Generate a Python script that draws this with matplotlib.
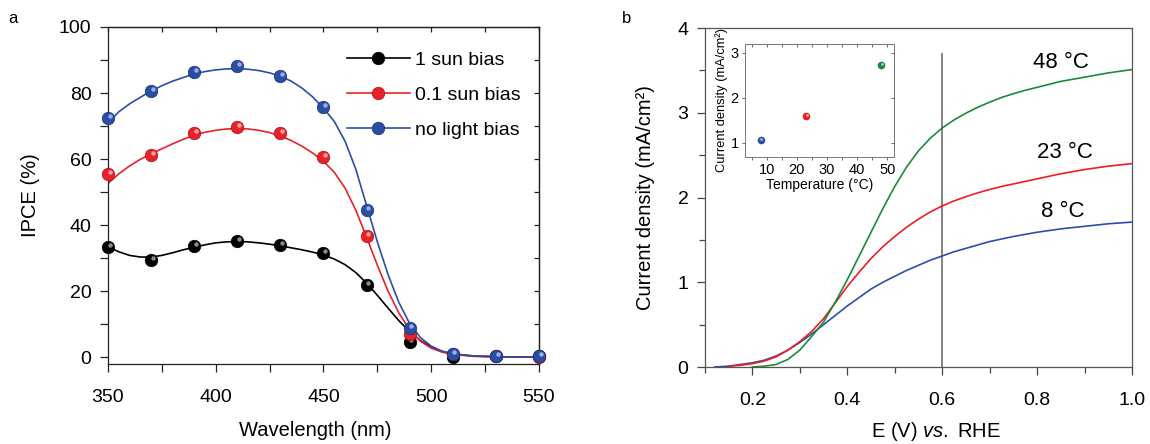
import matplotlib
matplotlib.use('Agg')
import matplotlib.pyplot as plt
import numpy as np
from matplotlib.ticker import MultipleLocator
from matplotlib.transforms import offset_copy
from matplotlib.lines import Line2D

plt.rcParams['font.family'] = ['Liberation Sans', 'DejaVu Sans']
plt.rcParams['mathtext.fontset'] = 'custom'
plt.rcParams['mathtext.rm'] = 'Liberation Sans'
plt.rcParams['mathtext.it'] = 'Liberation Sans:italic'

# ---------------- Panel a data ----------------
wl_points = [350, 370, 390, 410, 430, 450, 470, 490, 510, 530, 550]
ipce_1sun = [33.4, 29.4, 33.6, 35.3, 33.9, 31.6, 21.8, 4.6, 0.0, 0.2, 0.2]
ipce_01sun = [55.5, 61.2, 68.0, 69.6, 67.8, 60.7, 36.7, 6.9, 1.0, 0.2, 0.0]
ipce_nolight = [72.3, 80.6, 86.3, 88.3, 85.3, 75.7, 44.7, 8.7, 0.9, 0.4, 0.2]

wl_fit = [350, 355, 360, 365, 370, 375, 380, 385, 390, 395, 400, 405, 410,
          415, 420, 425, 430, 435, 440, 445, 450, 455, 460, 465, 470, 475,
          480, 485, 490, 495, 500, 505, 510, 520, 530, 540, 550]
fit_1sun = [33.4, 31.9, 30.8, 30.3, 30.3, 30.8, 31.6, 32.5, 33.3, 34.0, 34.6,
            34.9, 35.0, 34.9, 34.6, 34.2, 33.7, 33.1, 32.5, 31.8, 30.9, 29.7,
            28.0, 25.6, 22.4, 18.7, 14.8, 11.0, 7.7, 5.0, 3.0, 1.7, 0.9, 0.3,
            0.1, 0.0, 0.0]
fit_01sun = [52.6, 55.5, 57.9, 59.9, 61.5, 63.1, 64.6, 66.0, 67.2, 68.1, 68.7,
             69.1, 69.2, 69.1, 68.7, 68.0, 67.0, 65.6, 63.9, 61.8, 59.3, 56.0,
             51.2, 44.5, 36.3, 27.8, 19.9, 13.3, 8.3, 4.8, 2.7, 1.5, 0.8, 0.2,
             0.1, 0.0, 0.0]
fit_nolight = [70.8, 74.3, 76.7, 78.7, 80.6, 82.2, 83.6, 84.7, 85.8, 86.5,
               87.0, 87.3, 87.4, 87.2, 86.8, 86.1, 85.1, 83.6, 81.5, 78.8,
               75.4, 71.4, 65.4, 56.9, 45.9, 34.9, 24.9, 16.5, 10.1, 5.9, 3.3,
               1.8, 1.0, 0.3, 0.1, 0.03, 0.0]
labels_a = ['1 sun bias', '0.1 sun bias', 'no light bias']

# ---------------- Panel b data ----------------
E_V = [0.12, 0.15, 0.175, 0.2, 0.225, 0.25, 0.275, 0.3, 0.325, 0.35, 0.375,
       0.4, 0.425, 0.45, 0.475, 0.5, 0.525, 0.55, 0.575, 0.6, 0.625, 0.65,
       0.675, 0.7, 0.725, 0.75, 0.775, 0.8, 0.85, 0.9, 0.95, 1.0]
j_8C = [0.0, 0.01, 0.03, 0.05, 0.08, 0.13, 0.20, 0.29, 0.39, 0.50, 0.61,
        0.72, 0.82, 0.92, 1.00, 1.07, 1.14, 1.20, 1.26, 1.31, 1.36, 1.40,
        1.44, 1.48, 1.51, 1.54, 1.565, 1.59, 1.63, 1.66, 1.69, 1.71]
j_23C = [np.nan, 0.01, 0.02, 0.04, 0.07, 0.12, 0.20, 0.30, 0.42, 0.57, 0.76,
         0.95, 1.12, 1.28, 1.42, 1.54, 1.65, 1.745, 1.83, 1.90, 1.96, 2.01,
         2.055, 2.095, 2.13, 2.16, 2.19, 2.22, 2.28, 2.33, 2.37, 2.40]
j_48C = [np.nan, np.nan, np.nan, 0.0, 0.01, 0.03, 0.09, 0.20, 0.36, 0.53, 0.77,
         1.03, 1.31, 1.59, 1.87, 2.13, 2.36, 2.55, 2.70, 2.82, 2.915, 2.995,
         3.065, 3.125, 3.18, 3.225, 3.265, 3.30, 3.37, 3.42, 3.47, 3.51]
curve_labels = ['8 °C', '23 °C', '48 °C']
label_pos = [(0.855, 1.83), (0.859, 2.53), (0.85, 3.59)]
vline_E = 0.6
vline_top = 3.71

# inset data
temps = [8, 23, 48]
j_at_06 = [1.06, 1.59, 2.73]

# ---------------- colours ----------------
col_a = ['#000000', '#e8222a', '#2b4ea5']
dark_a = ['#000000', '#a51018', '#1a3170']
light_a = ['#9a9a9a', '#ffb0b0', '#a8b8f0']
col_b = ['#2b4fa8', '#ee1c25', '#1b8a3a']

fig = plt.figure(figsize=(11.5, 4.44), dpi=100)

# ================= Panel a =================
axa = fig.add_axes([0.0939, 0.1802, 0.3748, 0.759])
fits = [fit_1sun, fit_01sun, fit_nolight]
pts = [ipce_1sun, ipce_01sun, ipce_nolight]
hl = offset_copy(axa.transData, fig=fig, x=1.2, y=1.4, units='points')
handles = []
for i in range(3):
    axa.plot(wl_fit, fits[i], '-', color=col_a[i], lw=1.2, zorder=2)
for i in range(3):
    axa.plot(wl_points, pts[i], 'o', ms=9, mfc=col_a[i], mec=dark_a[i],
             mew=0.5, zorder=3 + i, clip_on=False)
    axa.plot(wl_points, pts[i], 'o', ms=3.2, mfc=light_a[i], mec='none',
             alpha=0.9, zorder=3.5 + i, clip_on=False, transform=hl)
    handles.append(Line2D([], [], color=col_a[i], lw=1.2, marker='o', ms=9,
                          mfc=col_a[i], mec=dark_a[i], mew=0.5))

axa.set_xlim(350, 550)
axa.set_ylim(-2.1, 100)
axa.xaxis.set_major_locator(MultipleLocator(50))
axa.xaxis.set_minor_locator(MultipleLocator(25))
axa.yaxis.set_major_locator(MultipleLocator(20))
axa.yaxis.set_minor_locator(MultipleLocator(10))
axa.tick_params(which='both', direction='out', length=5.8, width=0.9,
                color='#222222', labelsize=14, top=False, right=False)
axa.tick_params(axis='x', which='both', pad=12.5)
axa.tick_params(axis='y', which='both', pad=6)
for s in axa.spines.values():
    s.set_linewidth(0.9)
    s.set_color('#222222')
sx = axa.secondary_xaxis('top')
sx.xaxis.set_major_locator(MultipleLocator(25))
sx.tick_params(direction='in', length=3.6, width=0.9, color='#222222',
               labeltop=False)
sx.spines['top'].set_linewidth(0.9)
sx.spines['top'].set_color('#222222')
sy = axa.secondary_yaxis('right')
sy.yaxis.set_major_locator(MultipleLocator(10))
sy.tick_params(direction='in', length=3.6, width=0.9, color='#222222',
               labelright=False)
sy.spines['right'].set_linewidth(0.9)
sy.spines['right'].set_color('#222222')

axa.set_xlabel('Wavelength (nm)', fontsize=14.5)
axa.xaxis.set_label_coords(0.48, -0.168)
axa.set_ylabel('IPCE (%)', fontsize=14.5)
axa.yaxis.set_label_coords(-0.158, 0.5)

leg = axa.legend(handles, labels_a, loc='upper left',
                 bbox_to_anchor=(0.554, 0.927), frameon=False, fontsize=14,
                 handlelength=3.25, handletextpad=0.26, labelspacing=0.88,
                 borderpad=0, borderaxespad=0)

# ================= Panel b =================
axb = fig.add_axes([0.613, 0.1734, 0.3713, 0.7635])
js = [j_8C, j_23C, j_48C]
for i in range(3):
    axb.plot(E_V, js[i], '-', color=col_b[i], lw=1.2, zorder=2)
axb.vlines(vline_E, 0, vline_top, color='#6e6e6e', lw=1.2, zorder=1)
for i in range(3):
    axb.text(label_pos[i][0], label_pos[i][1], curve_labels[i], fontsize=16,
             ha='center', va='center')
axb.set_xlim(0.1, 1.0)
axb.set_ylim(0, 4)
axb.xaxis.set_minor_locator(MultipleLocator(0.1))
axb.yaxis.set_major_locator(MultipleLocator(1))
axb.yaxis.set_minor_locator(MultipleLocator(0.5))
axb.set_xticks([0.2, 0.4, 0.6, 0.8, 1.0])
axb.set_xticklabels(['0.2', '0.4', '0.6', '0.8', '1.0'])
axb.tick_params(which='major', direction='out', length=5.8, width=0.9,
                color='#444444', labelsize=14)
axb.tick_params(which='minor', direction='out', length=4.5, width=0.9,
                color='#444444')
axb.tick_params(axis='x', which='both', pad=12)
axb.tick_params(axis='y', which='both', pad=6)
for s in axb.spines.values():
    s.set_linewidth(0.9)
    s.set_color('#555555')
axb.set_xlabel(r'E (V) $\it{vs.}$ RHE', fontsize=14.5)
axb.xaxis.set_label_coords(0.54, -0.155)
axb.set_ylabel('Current density (mA/cm²)', fontsize=14.5)
axb.yaxis.set_label_coords(-0.117, 0.5)

# ---------------- inset ----------------
axi = fig.add_axes([0.6478, 0.647, 0.1296, 0.2538])
ihl = offset_copy(axi.transData, fig=fig, x=0.6, y=0.7, units='points')
light_b = ['#9fb2ee', '#ffb3b3', '#9ad6a8']
for i in range(3):
    axi.plot(temps[i], j_at_06[i], 'o', ms=5.5, mfc=col_b[i], mec='none',
             zorder=3)
    axi.plot(temps[i], j_at_06[i], 'o', ms=2, mfc=light_b[i], mec='none',
             zorder=4, transform=ihl)
axi.set_xlim(2.8, 52.2)
axi.set_ylim(0.69, 3.19)
axi.xaxis.set_major_locator(MultipleLocator(10))
axi.xaxis.set_minor_locator(MultipleLocator(5))
axi.yaxis.set_major_locator(MultipleLocator(1))
axi.tick_params(which='both', direction='out', length=2.5, width=0.6,
                color='#555555', labelsize=10.5, pad=2)
axi.tick_params(which='minor', length=1.8)
for s in axi.spines.values():
    s.set_linewidth(0.7)
    s.set_color('#777777')
isx = axi.secondary_xaxis('top')
isx.xaxis.set_major_locator(MultipleLocator(10))
isx.xaxis.set_minor_locator(MultipleLocator(5))
isx.tick_params(which='both', direction='in', length=2.0, width=0.6,
                color='#555555', labeltop=False)
isx.spines['top'].set_linewidth(0.7)
isx.spines['top'].set_color('#777777')
isy = axi.secondary_yaxis('right')
isy.yaxis.set_major_locator(MultipleLocator(1))
isy.tick_params(direction='in', length=2.0, width=0.6, color='#555555',
                labelright=False)
isy.spines['right'].set_linewidth(0.7)
isy.spines['right'].set_color('#777777')
axi.set_xlabel('Temperature (°C)', fontsize=10, labelpad=1)
axi.set_ylabel('Current density (mA/cm²)', fontsize=9.3, labelpad=2)

fig.text(0.007, 0.958, 'a', fontsize=12, ha='left', va='center')
fig.text(0.541, 0.958, 'b', fontsize=12, ha='left', va='center')

fig.savefig('out.png', dpi=100)
